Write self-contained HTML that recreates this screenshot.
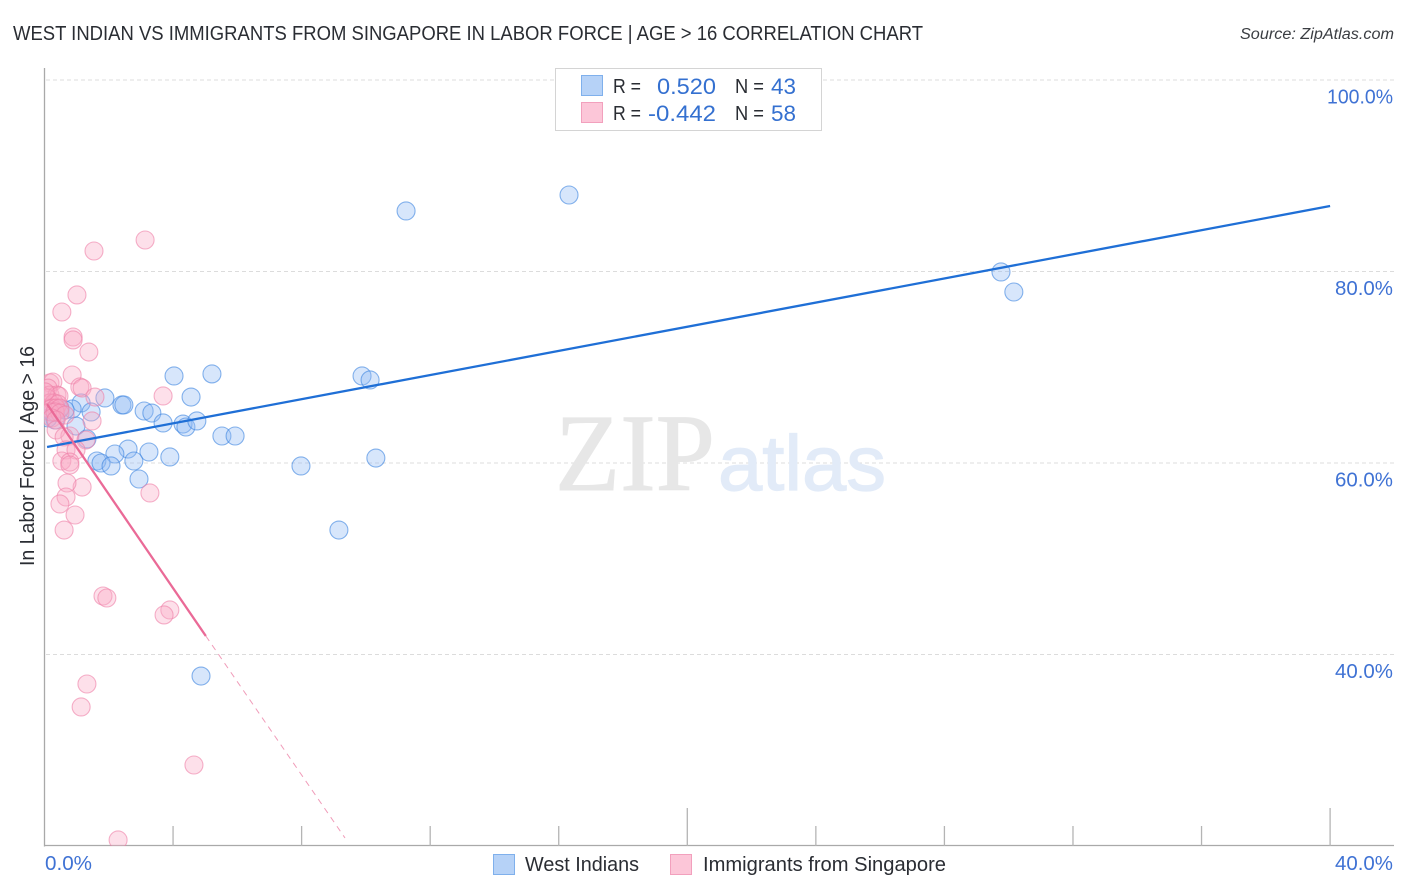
<!DOCTYPE html>
<html lang="en">
<head>
<meta charset="utf-8">
<title>West Indian vs Immigrants from Singapore Correlation Chart</title>
<style>
html,body{margin:0;padding:0;background:#fff;width:1406px;height:892px;overflow:hidden}
svg{display:block}
text{font-family:"Liberation Sans",sans-serif}
</style>
</head>
<body>
<svg id="chart" width="1406" height="892" viewBox="0 0 1406 892" xmlns="http://www.w3.org/2000/svg">
  <defs><clipPath id="plot-clip"><rect x="44" y="60" width="1350" height="786"/></clipPath></defs>
  <rect x="0" y="0" width="1406" height="892" fill="#fff"/>
  <text x="13" y="40" font-size="20" fill="#2a2d33" textLength="910" lengthAdjust="spacingAndGlyphs">WEST INDIAN VS IMMIGRANTS FROM SINGAPORE IN LABOR FORCE | AGE &gt; 16 CORRELATION CHART</text>
  <text x="1394" y="39" font-size="15.5" font-style="italic" fill="#3a3d42" text-anchor="end" textLength="154" lengthAdjust="spacingAndGlyphs">Source: ZipAtlas.com</text>
  <g id="grid"></g>
  <g>
    <text x="555" y="490" font-size="110" fill="#e7e7e7" stroke="#e7e7e7" stroke-width="1" style="font-family:'Liberation Serif',serif" textLength="160" lengthAdjust="spacingAndGlyphs">ZIP</text>
    <text x="718" y="490" font-size="78" fill="#e2ebf8" stroke="#e2ebf8" stroke-width="1.2" textLength="168" lengthAdjust="spacingAndGlyphs">atlas</text>
  </g>
  <g id="axes"></g>
  <g id="marks" clip-path="url(#plot-clip)"></g>
  <g id="trends" clip-path="url(#plot-clip)"></g>
  <g id="ticklabels"></g>
  <text transform="translate(34,566) rotate(-90)" font-size="20" fill="#2a2d33" textLength="220" lengthAdjust="spacingAndGlyphs">In Labor Force | Age &gt; 16</text>

  <g>
    <rect x="555.5" y="68.5" width="266" height="62" fill="#fff" stroke="#d4d4d4"/>
    <rect x="581.5" y="75.5" width="21" height="20" fill="#b6d2f7" stroke="#7fb0ec"/>
    <rect x="581.5" y="102.5" width="21" height="20" fill="#fcc6d8" stroke="#f2a0bd"/>
    <text x="613" y="93" font-size="20" fill="#2a2d33" textLength="28" lengthAdjust="spacingAndGlyphs">R =</text>
    <text x="716" y="94" font-size="22" fill="#3470d0" text-anchor="end" textLength="59" lengthAdjust="spacingAndGlyphs">0.520</text>
    <text x="735" y="93" font-size="20" fill="#2a2d33" textLength="29" lengthAdjust="spacingAndGlyphs">N =</text>
    <text x="771" y="94" font-size="22" fill="#3470d0" textLength="25" lengthAdjust="spacingAndGlyphs">43</text>
    <text x="613" y="120" font-size="20" fill="#2a2d33" textLength="28" lengthAdjust="spacingAndGlyphs">R =</text>
    <text x="716" y="121" font-size="22" fill="#3470d0" text-anchor="end" textLength="68" lengthAdjust="spacingAndGlyphs">-0.442</text>
    <text x="735" y="120" font-size="20" fill="#2a2d33" textLength="29" lengthAdjust="spacingAndGlyphs">N =</text>
    <text x="771" y="121" font-size="22" fill="#3470d0" textLength="25" lengthAdjust="spacingAndGlyphs">58</text>
  </g>

  <g>
    <rect x="493.5" y="854.5" width="21" height="20" fill="#b6d2f7" stroke="#7fb0ec"/>
    <text x="525" y="871" font-size="20" fill="#2a2d33" textLength="114" lengthAdjust="spacingAndGlyphs">West Indians</text>
    <rect x="670.5" y="854.5" width="21" height="20" fill="#fcc6d8" stroke="#f2a0bd"/>
    <text x="703" y="871" font-size="20" fill="#2a2d33" textLength="243" lengthAdjust="spacingAndGlyphs">Immigrants from Singapore</text>
  </g>
</svg>
<script>
const yTickValues = [100, 80, 60, 40];
const yTickLabels = ["100.0%", "80.0%", "60.0%", "40.0%"];
const xTickValues = [4, 8, 12, 16, 20, 24, 28, 32, 36, 40];
const xMajorTicks = [20, 40];
const xEdgeLabels = ["0.0%", "40.0%"];

const westIndianX = [11.25,16.32,29.76,30.16,9.88,10.13,5.21,4.03,4.56,1.88,1.14,2.41,2.47,3.10,3.34,1.45,0.86,0.48,3.69,4.31,4.40,4.74,0.98,1.32,5.52,5.93,2.60,2.19,3.25,3.90,2.78,1.63,1.76,2.07,2.94,7.98,10.31,9.16,4.87,0.33,0.64,0.23,0.11];
const westIndianY = [86.32,87.99,79.95,77.86,69.09,68.67,69.30,69.09,66.89,66.79,66.27,66.06,66.06,65.43,65.22,65.33,65.64,65.64,64.18,64.07,63.76,64.39,63.86,62.51,62.82,62.82,61.46,60.94,61.15,60.63,60.21,60.21,60.00,59.69,58.33,59.69,60.52,53.00,37.75,64.49,65.54,65.33,64.70];

const singaporeX = [3.13,1.54,1.01,0.54,0.89,0.89,1.38,0.86,1.10,1.17,3.69,1.57,1.48,0.17,0.26,0.11,0.17,0.39,0.45,0.08,0.17,0.30,0.42,0.08,0.23,0.36,0.48,0.17,0.33,0.48,0.64,0.23,0.36,0.36,0.79,0.61,1.29,0.67,0.98,0.54,0.79,0.79,1.17,0.70,3.28,0.67,0.48,0.95,0.61,1.82,1.94,3.90,3.72,1.32,1.14,4.65,2.29,0.02];
const singaporeY = [83.29,82.14,77.55,75.77,73.16,72.85,71.59,69.19,67.94,67.83,67.00,66.89,64.39,68.36,68.46,67.83,67.10,67.10,67.00,66.79,66.27,66.27,66.16,65.74,65.74,65.74,65.74,65.33,65.33,65.22,65.01,64.70,64.49,63.45,62.82,62.72,62.40,61.36,61.36,60.21,60.10,59.79,57.49,57.91,56.87,56.45,55.72,54.57,53.00,46.11,45.90,44.65,44.13,36.92,34.52,28.46,20.63,67.42];

const westIndianTrendX = [0.08, 40];
const westIndianTrendY = [61.67, 86.84];
const singaporeTrendX = [0.08, 5.02];
const singaporeTrendY = [66.15, 41.93];
const singaporeDashX = [5.02, 9.35];
const singaporeDashY = [41.93, 20.84];

const SVGNS = "http://www.w3.org/2000/svg";
function xScale(v) { return 44.5 + v * 32.14; }
function yScale(v) { return 80 + (100 - v) * 9.575; }
function make(tag, attrs, parent) {
  const el = document.createElementNS(SVGNS, tag);
  for (const k in attrs) el.setAttribute(k, attrs[k]);
  parent.appendChild(el);
  return el;
}
const grid = document.getElementById("grid");
const axes = document.getElementById("axes");
const marks = document.getElementById("marks");
const trends = document.getElementById("trends");
const labels = document.getElementById("ticklabels");

yTickValues.forEach(function (v, i) {
  const line = make("line", {x1: 46, x2: 1394, y1: yScale(v), y2: yScale(v), stroke: "#dcdcdc", "stroke-width": 1, "stroke-dasharray": "4 3"}, grid);
  
  
  const t = make("text", {x: 1393, y: yScale(v) + 23.5, "font-size": 20, fill: "#3f72d4", "text-anchor": "end", textLength: yTickLabels[i].length * 8 + 18, lengthAdjust: "spacingAndGlyphs"}, labels);
  
  
  t.textContent = yTickLabels[i];
});

const yAxis = make("line", {x1: 44.5, x2: 44.5, y1: 68, y2: 846.5, stroke: "#a9a9a9", "stroke-width": 1.3}, axes);


const xAxis = make("line", {x1: 44, x2: 1394, y1: 845.5, y2: 845.5, stroke: "#a9a9a9", "stroke-width": 1.3}, axes);



xTickValues.forEach(function (v) {
  const top = xMajorTicks.indexOf(v) >= 0 ? 808 : 826;
  const tick = make("line", {x1: xScale(v), x2: xScale(v), y1: top, y2: 846, stroke: "#b4b4b4", "stroke-width": 1.3}, axes);
  
  
});

const xLabelLeft = make("text", {x: 45, y: 870, "font-size": 20, fill: "#3f72d4", textLength: 47, lengthAdjust: "spacingAndGlyphs"}, labels);


xLabelLeft.textContent = xEdgeLabels[0];
const xLabelRight = make("text", {x: 1393, y: 870, "font-size": 20, fill: "#3f72d4", "text-anchor": "end", textLength: 58, lengthAdjust: "spacingAndGlyphs"}, labels);


xLabelRight.textContent = xEdgeLabels[1];

westIndianX.forEach(function (v, i) {
  const c = make("circle", {cx: xScale(v), cy: yScale(westIndianY[i]), r: 9, fill: "#8fbaf3", "fill-opacity": 0.36, stroke: "#3f86e0", "stroke-opacity": 0.62, "stroke-width": 1.1}, marks);
  
  
});
singaporeX.forEach(function (v, i) {
  const c = make("circle", {cx: xScale(v), cy: yScale(singaporeY[i]), r: 9, fill: "#f9a8c4", "fill-opacity": 0.36, stroke: "#ee7fa6", "stroke-opacity": 0.6, "stroke-width": 1.1}, marks);
  
  
});

const blueTrend = make("line", {x1: xScale(westIndianTrendX[0]), y1: yScale(westIndianTrendY[0]), x2: xScale(westIndianTrendX[1]), y2: yScale(westIndianTrendY[1]), stroke: "#1f6fd6", "stroke-width": 2.3}, trends);


const pinkTrend = make("line", {x1: xScale(singaporeTrendX[0]), y1: yScale(singaporeTrendY[0]), x2: xScale(singaporeTrendX[1]), y2: yScale(singaporeTrendY[1]), stroke: "#ea6a97", "stroke-width": 2.3}, trends);


const pinkDash = make("line", {x1: xScale(singaporeDashX[0]), y1: yScale(singaporeDashY[0]), x2: xScale(singaporeDashX[1]), y2: yScale(singaporeDashY[1]), stroke: "#f09cb9", "stroke-width": 1, "stroke-dasharray": "6 5"}, trends);


</script>
</body>
</html>
